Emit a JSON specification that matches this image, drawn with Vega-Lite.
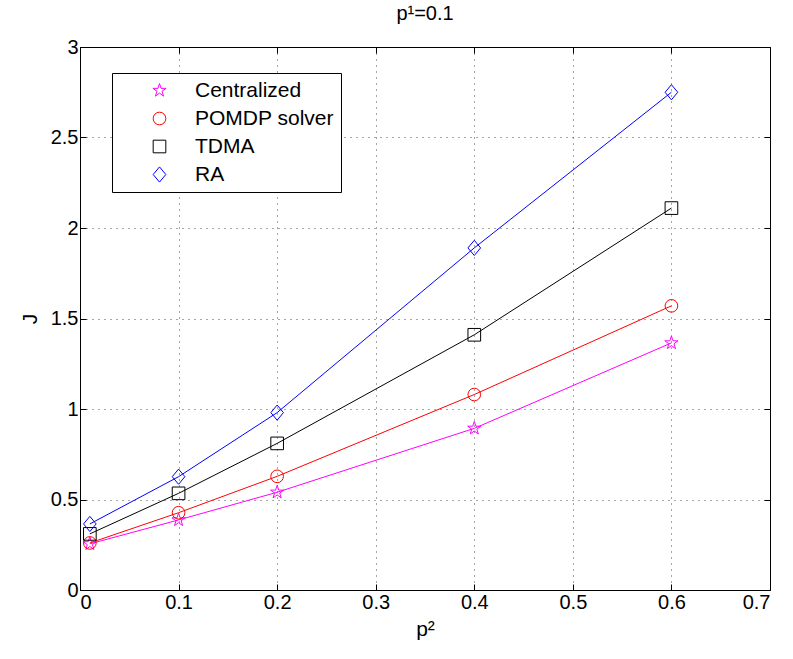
{
  "$schema": "https://vega.github.io/schema/vega-lite/v6.json",
  "width": 690,
  "height": 543,
  "autosize": "none",
  "padding": {"left": 80, "top": 47, "right": 23, "bottom": 69},
  "config": {
    "font": "Liberation Sans",
    "view": {"stroke": "black", "strokeWidth": 1},
    "axis": {
      "domain": false,
      "labelFontSize": 20,
      "labelColor": "black",
      "tickColor": "black",
      "tickSize": -6,
      "labelPadding": 8,
      "grid": true,
      "gridColor": "black",
      "gridOpacity": 0.7,
      "gridDash": [1, 5],
      "titleFontSize": 21,
      "titleFontWeight": "normal",
      "titleColor": "black"
    },
    "legend": {
      "title": null, "orient": "none", "legendX": 32, "legendY": 26,
      "strokeColor": "black", "fillColor": "white", "padding": 7,
      "labelFontSize": 21, "labelColor": "black", "symbolSize": 160, "symbolStrokeWidth": 1,
      "rowPadding": 6, "symbolOffset": 30, "labelOffset": 25, "labelLimit": 300
    }
  },
  "title": {"text": "p¹=0.1", "fontSize": 20, "fontWeight": "normal", "offset": 13, "color": "black"},
  "data": {
    "values": [
      {"p2": 0.01, "J": 0.255, "method": "Centralized"},
      {"p2": 0.1, "J": 0.387, "method": "Centralized"},
      {"p2": 0.2, "J": 0.54, "method": "Centralized"},
      {"p2": 0.4, "J": 0.893, "method": "Centralized"},
      {"p2": 0.6, "J": 1.365, "method": "Centralized"},
      {"p2": 0.01, "J": 0.26, "method": "POMDP solver"},
      {"p2": 0.1, "J": 0.427, "method": "POMDP solver"},
      {"p2": 0.2, "J": 0.628, "method": "POMDP solver"},
      {"p2": 0.4, "J": 1.08, "method": "POMDP solver"},
      {"p2": 0.6, "J": 1.57, "method": "POMDP solver"},
      {"p2": 0.01, "J": 0.31, "method": "TDMA"},
      {"p2": 0.1, "J": 0.534, "method": "TDMA"},
      {"p2": 0.2, "J": 0.81, "method": "TDMA"},
      {"p2": 0.4, "J": 1.41, "method": "TDMA"},
      {"p2": 0.6, "J": 2.11, "method": "TDMA"},
      {"p2": 0.01, "J": 0.365, "method": "RA"},
      {"p2": 0.1, "J": 0.626, "method": "RA"},
      {"p2": 0.2, "J": 0.98, "method": "RA"},
      {"p2": 0.4, "J": 1.89, "method": "RA"},
      {"p2": 0.6, "J": 2.75, "method": "RA"}
    ]
  },
  "resolve": {"axis": {"x": "independent", "y": "independent"}},
  "layer": [
    {
      "mark": {"type": "line", "strokeWidth": 1},
      "encoding": {
        "x": {"field": "p2", "type": "quantitative", "scale": {"domain": [0, 0.7], "nice": false},
              "axis": {"title": "p²", "values": [0, 0.1, 0.2, 0.3, 0.4, 0.5, 0.6, 0.7], "format": ".1~f", "titlePadding": 6}},
        "y": {"field": "J", "type": "quantitative", "scale": {"domain": [0, 3], "nice": false},
              "axis": {"title": "J", "values": [0, 0.5, 1, 1.5, 2, 2.5, 3], "format": "~g", "titlePadding": 10}},
        "color": {"field": "method", "type": "nominal",
                  "scale": {"domain": ["Centralized", "POMDP solver", "TDMA", "RA"], "range": ["#ff00ff", "#ff0000", "#000000", "#0000ff"]}}
      }
    },
    {
      "mark": {"type": "point", "filled": false, "strokeWidth": 1, "size": 160, "opacity": 1},
      "encoding": {
        "x": {"field": "p2", "type": "quantitative", "axis": null},
        "y": {"field": "J", "type": "quantitative", "axis": null},
        "color": {"field": "method", "type": "nominal"},
        "shape": {"field": "method", "type": "nominal",
                  "scale": {"domain": ["Centralized", "POMDP solver", "TDMA", "RA"],
                            "range": ["M0,-1.1L0.247,-0.34L1.046,-0.34L0.4,0.13L0.647,0.89L0,0.42L-0.647,0.89L-0.4,0.13L-1.046,-0.34L-0.247,-0.34Z", "circle", "square", "M0,-1.2L1,0L0,1.2L-1,0Z"]}}
      }
    },
    {
      "mark": {"type": "point", "opacity": 0},
      "encoding": {
        "x": {"field": "p2", "type": "quantitative",
              "axis": {"orient": "top", "title": null, "labels": false, "grid": false, "values": [0, 0.1, 0.2, 0.3, 0.4, 0.5, 0.6, 0.7]}},
        "y": {"field": "J", "type": "quantitative",
              "axis": {"orient": "right", "title": null, "labels": false, "grid": false, "values": [0, 0.5, 1, 1.5, 2, 2.5, 3]}}
      }
    }
  ]
}
